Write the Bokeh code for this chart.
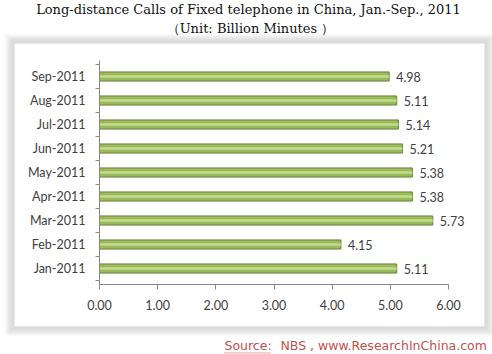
from bokeh.plotting import figure
from bokeh.models import (ColumnDataSource, LabelSet, Label, BoxAnnotation, FixedTicker,
                          NumeralTickFormatter, Range1d)
from bokeh.core.properties import value
from bokeh.embed import file_html
from bokeh.resources import INLINE

months = ["Jan-2011", "Feb-2011", "Mar-2011", "Apr-2011", "May-2011",
          "Jun-2011", "Jul-2011", "Aug-2011", "Sep-2011"]
calls = [5.11, 4.15, 5.73, 5.38, 5.38, 5.21, 5.14, 5.11, 4.98]
x_ticks = [0, 1, 2, 3, 4, 5, 6]

title_text = "Long-distance Calls of Fixed telephone in China, Jan.-Sep., 2011"
subtitle_text = "（Unit: Billion Minutes ）"
source_label = "Source:"
source_text = "NBS , www.ResearchInChina.com"

W, H = 492, 354
# pixel layout: value 0 at px 99, value 6 at px 448; category unit = 24 px,
# category boundary 0 at py 280
KX = (448 - 99) / 6.0
X0 = 99
KY = 24.0
Y0 = 280

def dx(px):
    return (px - X0) / KX

def dy(py):
    return (Y0 - py) / KY

pos = [i + 0.5 for i in range(len(months))]
src = ColumnDataSource(dict(y=pos, v=calls, lab=["%.2f" % c for c in calls]))

p = figure(width=W, height=H, output_backend="svg", toolbar_location=None,
           x_range=Range1d(dx(0), dx(W)), y_range=Range1d(dy(H), dy(0)),
           min_border=0)
p.outline_line_color = None
p.background_fill_color = "white"
p.border_fill_color = "white"
p.xgrid.visible = False
p.ygrid.visible = False

# chart frame (gray bevel fading outwards)
def box(l, r, t, b, **kw):
    p.add_layout(BoxAnnotation(left=dx(l), right=dx(r), top=dy(t), bottom=dy(b),
                               fill_alpha=0, **kw))

frame_shades = ["#747474", "#7d7d7d", "#868686", "#8f8f8f", "#999999",
                "#a6a6a6", "#b9b9b9", "#cfcfcf", "#e3e3e3", "#f2f2f2"]
IL, IT, IR, IB = 14, 43, 484, 326
for i, c in enumerate(frame_shades):
    o = i + 0.5
    box(IL - o, IR + o, IT - o, IB + o, line_color=c, line_width=1)

# bars
p.hbar(y="y", right="v", left=0, height=0.38, source=src,
       fill_color="#9bbb59", line_color="#66823a", line_width=1)
p.hbar(y="y", right="v", left=0, height=0.10, source=src,
       fill_color="#c8dd98", line_color=None, fill_alpha=0.85)

labels = LabelSet(x="v", y="y", text="lab", source=src, x_offset=7,
                  text_baseline="middle", text_font=value("Lato"),
                  text_font_size=value("12.5px"), text_color="#404040")
p.add_layout(labels)

xa = p.xaxis[0]
xa.fixed_location = dy(283.5)
xa.bounds = (0, 6)
xa.ticker = FixedTicker(ticks=x_ticks)
xa.formatter = NumeralTickFormatter(format="0.00")
xa.axis_line_color = "#868686"
xa.major_tick_line_color = "#868686"
xa.major_tick_out = 5
xa.major_tick_in = 0
xa.minor_tick_line_color = None
xa.major_label_standoff = 11
xa.major_label_text_font = "Lato"
xa.major_label_text_font_size = "12.5px"
xa.major_label_text_color = "#404040"

ya = p.yaxis[0]
ya.fixed_location = 0
ya.bounds = (dy(283.5), dy(60))
ya.ticker = FixedTicker(ticks=pos, minor_ticks=list(range(len(months) + 1)))
ya.major_label_overrides = {pp: m for pp, m in zip(pos, months)}
ya.axis_line_color = "#868686"
ya.major_tick_line_color = None
ya.major_tick_out = 0
ya.major_tick_in = 0
ya.minor_tick_line_color = "#868686"
ya.minor_tick_out = 4
ya.minor_tick_in = 0
ya.major_label_standoff = 10
ya.major_label_text_font = "Lato"
ya.major_label_text_font_size = "12.5px"
ya.major_label_text_color = "#404040"

p.add_layout(Label(x=dx(248), y=dy(9), text=title_text, text_align="center",
                   text_baseline="middle", text_font="DejaVu Serif",
                   text_font_size="13px", text_color="#111111"))
p.add_layout(Label(x=dx(250), y=dy(28), text=subtitle_text, text_align="center",
                   text_baseline="middle", text_font="DejaVu Serif",
                   text_font_size="13px", text_color="#111111"))

p.add_layout(Label(x=dx(224), y=dy(345), text=source_label, text_align="left",
                   text_baseline="middle", text_font="DejaVu Sans",
                   text_font_size="12.5px", text_color="#c0504d"))
p.add_layout(Label(x=dx(280), y=dy(345), text=source_text, text_align="left",
                   text_baseline="middle", text_font="DejaVu Sans",
                   text_font_size="12.5px", text_color="#c0504d"))
box(224, 270, 352, 352.8, line_color="#c0504d", line_width=0.8)

open("out.html", "w").write(file_html(p, INLINE))
